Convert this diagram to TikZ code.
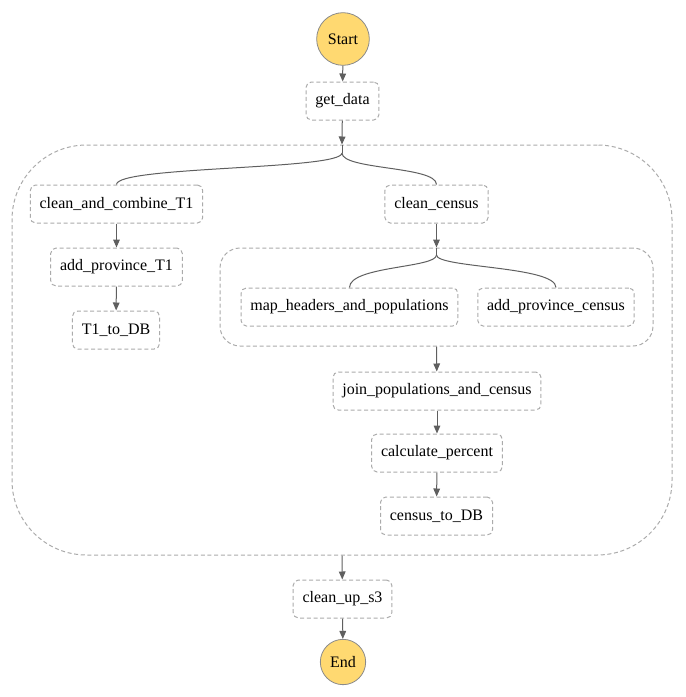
\documentclass[tikz,border=0pt]{standalone}
\usepackage{fontspec}
\setmainfont{Liberation Serif}
\usetikzlibrary{arrows.meta}

\definecolor{termfill}{HTML}{FFD971}
\definecolor{termline}{HTML}{8A8A8A}
\definecolor{edgegray}{HTML}{5F5F5F}
\definecolor{boxgray}{HTML}{ABABAB}

\tikzset{
    task/.style={draw=boxgray, line width=0.75pt, dash pattern=on 3pt off 2pt,
        rounded corners=4pt, minimum height=28.5pt, inner xsep=7pt,
        font=\fontsize{12}{14}\selectfont},
    term/.style={circle, draw=termline, line width=0.6pt, fill=termfill,
        inner sep=0pt, font=\fontsize{12}{14}\selectfont},
    group/.style={draw=boxgray, line width=0.75pt, dash pattern=on 3pt off 2pt},
    flow/.style={draw=edgegray, line width=0.75pt, -{Triangle[length=6pt,width=5pt]}},
    branch/.style={draw=edgegray, line width=0.75pt}
}

\begin{document}
\begin{tikzpicture}[x=0.75pt, y=-0.75pt]

        \useasboundingbox (0,0) rectangle (686,697);

        % containers
        \node (outer) [group, rounded corners=56pt, minimum width=495pt, minimum height=307.5pt] at (342,350) {};
        \node (inner) [group, rounded corners=15pt, minimum width=324.75pt, minimum height=73.5pt] at (436.5,297) {};

        % states
        \node (start) [term, minimum size=39.5pt] at (343,39) {Start};
        \node (getdata) [task] at (342.5,101) {get\_data};

        \node (cleanT1) [task] at (116.5,204) {clean\_and\_combine\_T1};
        \node (provT1) [task] at (116.5,267) {add\_province\_T1};
        \node (dbT1) [task] at (116,330) {T1\_to\_DB};

        \node (census) [task] at (436.5,204) {clean\_census};
        \node (headers) [task] at (349.5,307) {map\_headers\_and\_populations};
        \node (provcensus) [task] at (556,307) {add\_province\_census};
        \node (join) [task] at (437,391) {join\_populations\_and\_census};
        \node (percent) [task] at (437,453) {calculate\_percent};
        \node (dbcensus) [task] at (436.5,516) {census\_to\_DB};

        \node (cleanup) [task] at (342.5,599) {clean\_up\_s3};
        \node (end) [term, minimum size=34pt] at (343,662) {End};

        % main line
        \draw [flow] (start) -- (getdata);
        \draw [flow] (getdata) -- (outer.north);

        % outer branches
        \coordinate (forkA) at (342,153);
        \draw [branch] (outer.north) -- (forkA);
        \draw [branch] (forkA) .. controls (342,170) and (116.5,166) .. (cleanT1.north);
        \draw [branch] (forkA) .. controls (342,170) and (436.5,166) .. (census.north);

        \draw [flow] (cleanT1) -- (provT1);
        \draw [flow] (provT1) -- (dbT1);

        % inner branches
        \draw [flow] (census) -- (inner.north);
        \coordinate (forkB) at (436.5,255);
        \draw [branch] (inner.north) -- (forkB);
        \draw [branch] (forkB) .. controls (436.5,268) and (349.5,266) .. (headers.north);
        \draw [branch] (forkB) .. controls (436.5,268) and (556,266) .. (provcensus.north);

        \draw [flow] (inner.south) -- (join);
        \draw [flow] (join) -- (percent);
        \draw [flow] (percent) -- (dbcensus);

        \draw [flow] (outer.south) -- (cleanup);
        \draw [flow] (cleanup) -- (end);

    \end{tikzpicture}
\end{document}
